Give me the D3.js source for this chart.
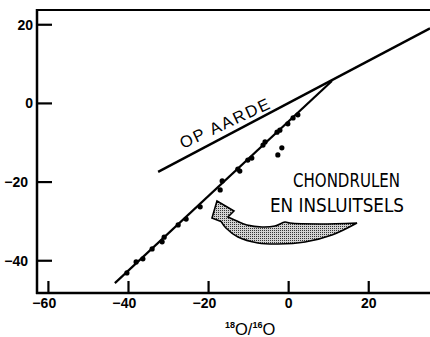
<!DOCTYPE html>
<html><head><meta charset="utf-8">
<script src="https://cdn.jsdelivr.net/npm/d3@7"></script>
<style>html,body{margin:0;padding:0;background:#fff;} svg{display:block}</style>
</head><body><svg id="c" width="430" height="337"></svg>
<script>
// ---- data ----
const xTicks = [-60, -40, -20, 0, 20];
const yTicks = [-40, -20, 0, 20];
const chondrulePoints = [
  [-40.4,-43.1],[-38.1,-40.3],[-36.4,-39.5],[-34.1,-37.0],[-31.6,-35.2],[-31.1,-34.0],
  [-27.6,-30.9],[-25.6,-29.4],[-22.1,-26.3],[-17.1,-22.0],[-16.6,-19.7],[-12.7,-16.7],
  [-12.2,-17.2],[-10.2,-14.4],[-9.2,-13.9],[-6.4,-10.6],[-5.9,-9.8],[-2.9,-7.3],
  [-2.2,-6.8],[-0.2,-5.2],[1.1,-3.7],[2.3,-2.9]
];
const offLinePoints = [[-1.7,-11.3],[-2.7,-13.1]];
const earthLine = [[-32.6,-17.4],[35.3,19.1]];
const chondruleLine = [[-43.4,-45.7],[10.8,5.7]];
// arrow outline (data units): left barb -> tip -> right barb
const arrowHead = [[-16.9,-30.0],[-19.15,-29.13],[-17.9,-24.82],[-13.66,-27.36],[-15.16,-28.88]];
const arrowUpper = [[-15.16,-28.88],[-12.91,-29.91],[-10.41,-30.92],[-6.67,-31.43],[-3.42,-31.17],
  [-0.92,-30.16],[0.32,-30.42],[7.82,-30.66],[17.06,-30.41]];
const arrowLower = [[17.06,-30.41],[10.81,-33.46],[4.07,-35.24],[-2.67,-35.75],[-7.67,-35.49],
  [-12.66,-33.97],[-15.66,-31.68],[-16.9,-30.0]];
const earthLabel = "OP AARDE";
const noteLines = ["CHONDRULEN", "EN INSLUITSELS"];
const xTitle = [["18", true], ["O", false], ["/", false], ["16", true], ["O", false]];

// ---- chart ----
const svg = d3.select("#c");
const x = d3.scaleLinear().domain([-62.85, 35.3]).range([37, 430]);
const y = d3.scaleLinear().domain([-48.2, 23.75]).range([293, 10]);

const defs = svg.append("defs");
const pat = defs.append("pattern").attr("id","stip").attr("width",2).attr("height",2)
  .attr("patternUnits","userSpaceOnUse");
pat.append("rect").attr("width",2).attr("height",2).attr("fill","#d2d2d2");
pat.append("rect").attr("width",1).attr("height",1).attr("fill","#333");
defs.append("clipPath").attr("id","clip").append("rect")
  .attr("x",37).attr("y",10).attr("width",393).attr("height",283);

// frame / axes
svg.append("line").attr("x1",37).attr("x2",430).attr("y1",10).attr("y2",10)
  .attr("stroke","#000").attr("stroke-width",2.2);
svg.append("line").attr("x1",37).attr("x2",37).attr("y1",9).attr("y2",294)
  .attr("stroke","#000").attr("stroke-width",2.5);
svg.append("line").attr("x1",36).attr("x2",430).attr("y1",293).attr("y2",293)
  .attr("stroke","#000").attr("stroke-width",2.5);

const tickFont = "Liberation Sans, Arial, sans-serif";
// y ticks
yTicks.forEach(v => {
  svg.append("line").attr("x1",37).attr("x2",52).attr("y1",y(v)).attr("y2",y(v))
    .attr("stroke","#000").attr("stroke-width",2.2);
  svg.append("text").attr("x", v < 0 ? 28 : 33).attr("y", y(v)).attr("dy","0.36em")
    .attr("text-anchor","end").attr("font-family",tickFont)
    .attr("font-weight","bold").attr("font-size",14)
    .text(v < 0 ? "\u2212" + Math.abs(v) : String(v));
});
// x ticks
xTicks.forEach(v => {
  svg.append("line").attr("x1",x(v)).attr("x2",x(v)).attr("y1",293).attr("y2",281)
    .attr("stroke","#000").attr("stroke-width",2.2);
  svg.append("text").attr("x", x(v)).attr("y", 308)
    .attr("text-anchor","middle").attr("font-family",tickFont)
    .attr("font-weight","bold").attr("font-size",14).text(String(Math.abs(v)));
  if (v < 0) {
    svg.append("text").attr("x", x(v) - 8).attr("y", 308)
      .attr("text-anchor","end").attr("font-family",tickFont)
      .attr("font-weight","bold").attr("font-size",14).text("\u2212");
  }
});

// x title
const tt = svg.append("text").attr("x",225).attr("y",335)
  .attr("font-family","Liberation Sans, Arial, sans-serif").attr("font-size",16.5);
let prevSup = false;
xTitle.forEach(([s, sup]) => {
  const ts = tt.append("tspan").text(s);
  if (sup) { ts.attr("font-size",9).attr("font-weight","bold").attr("dy", prevSup ? 0 : -7); }
  else { ts.attr("dy", prevSup ? 7 : 0); }
  prevSup = sup;
});

// lines
const g = svg.append("g").attr("clip-path","url(#clip)");
const lg = d3.line().x(d => x(d[0])).y(d => y(d[1]));
g.append("path").attr("d", lg(earthLine)).attr("stroke","#000").attr("stroke-width",2.4).attr("fill","none");
g.append("path").attr("d", lg(chondruleLine)).attr("stroke","#000").attr("stroke-width",2.2).attr("fill","none");

// points
g.selectAll("circle.p").data(chondrulePoints.concat(offLinePoints)).join("circle")
  .attr("class","p").attr("cx", d => x(d[0])).attr("cy", d => y(d[1])).attr("r",2.6).attr("fill","#000");

// arrow
const cg = d3.line().x(d => x(d[0])).y(d => y(d[1])).curve(d3.curveCatmullRom.alpha(0.5));
const dArrow = lg(arrowHead) + cg(arrowUpper).replace(/^M/,"L") + cg(arrowLower).replace(/^M/,"L") + "Z";
svg.append("path").attr("d", dArrow).attr("fill","url(#stip)").attr("stroke","#000")
  .attr("stroke-width",1.6).attr("stroke-linejoin","miter");

// labels
svg.append("text").attr("transform","translate(183,149) rotate(-25)")
  .attr("font-family","Liberation Sans, Arial, sans-serif").attr("font-size",16.5)
  .attr("textLength",97).attr("lengthAdjust","spacing").text(earthLabel);
svg.append("text").attr("x",293).attr("y",187)
  .attr("font-family","Liberation Sans Narrow, DejaVu Sans Condensed, sans-serif").attr("font-size",20)
  .attr("textLength",107).attr("lengthAdjust","spacingAndGlyphs").text(noteLines[0]);
svg.append("text").attr("x",270).attr("y",212)
  .attr("font-family","Liberation Sans Narrow, DejaVu Sans Condensed, sans-serif").attr("font-size",20)
  .attr("textLength",134).attr("lengthAdjust","spacingAndGlyphs").text(noteLines[1]);
</script></body></html>
